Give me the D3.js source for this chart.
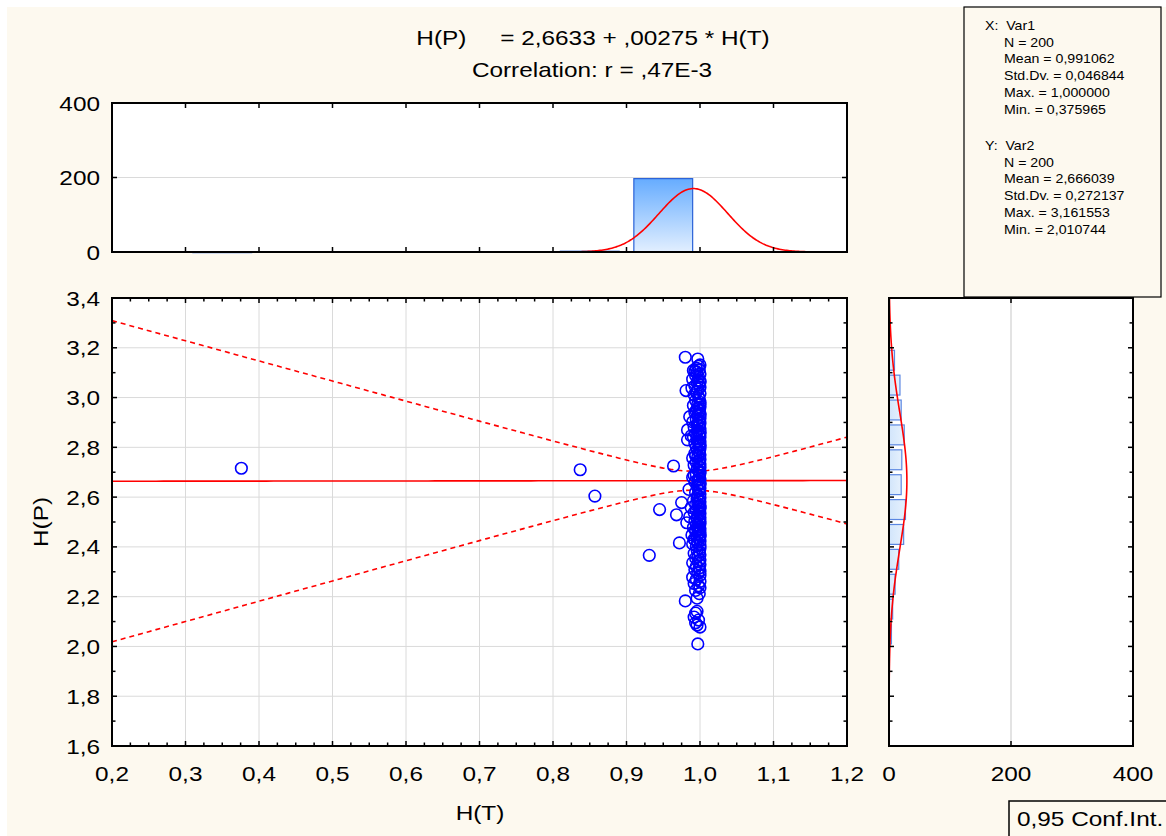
<!DOCTYPE html>
<html><head><meta charset="utf-8">
<script src="https://cdn.jsdelivr.net/npm/d3@7"></script>
<style>
body{margin:0;background:#fff}
svg{display:block}
text{font-family:"Liberation Sans",Arial,sans-serif;fill:#000}
</style>
</head><body>
<svg id="c" width="1166" height="836"></svg>
<script>
// ---------------- DATA ----------------
const titleLine1 = "H(P)     = 2,6633 + ,00275 * H(T)";
const titleLine2 = "Correlation: r = ,47E-3";
const xLabel = "H(T)";
const yLabel = "H(P)";
const confLabel = "0,95 Conf.Int.";

const scatterPoints = [
 [0.980,3.162],[0.997,3.155],[0.995,3.118],[0.999,3.112],[0.993,3.105],[1.000,3.131],[0.996,3.102],[0.998,3.126],[0.991,3.109],
 [1.000,3.095],[0.994,3.088],[0.998,3.081],[0.990,3.074],[1.000,3.066],[0.996,3.059],[0.999,3.052],[0.993,3.047],[1.000,3.041],
 [0.997,3.035],[0.981,3.028],[0.995,3.022],[1.000,3.016],[0.992,3.011],[0.998,3.004],[0.997,3.070],[1.000,3.063],[0.989,3.038],
 [0.999,2.995],[0.994,2.988],[1.000,2.981],[0.997,2.975],[0.991,2.968],[1.000,2.962],[0.996,2.955],[0.999,2.948],[0.993,2.941],
 [1.000,2.935],[0.997,2.928],[0.986,2.923],[1.000,2.917],[0.995,2.912],[0.998,2.906],[0.990,2.902],[1.000,2.972],[0.998,2.958],
 [0.995,2.944],[1.000,2.931],
 [1.000,2.897],[0.996,2.892],[0.999,2.886],[0.992,2.881],[1.000,2.875],[0.983,2.870],[0.997,2.866],[1.000,2.861],[0.994,2.856],
 [0.999,2.851],[0.988,2.846],[1.000,2.841],[0.996,2.836],[0.983,2.830],[0.998,2.826],[1.000,2.821],[0.993,2.816],[0.999,2.811],
 [1.000,2.806],[0.995,2.802],[0.998,2.889],[1.000,2.858],[0.991,2.843],[0.997,2.823],[1.000,2.808],
 [0.376,2.716],[0.837,2.710],[0.964,2.725],[1.000,2.795],[0.996,2.789],[0.999,2.782],[0.993,2.776],[1.000,2.770],[0.997,2.763],
 [0.990,2.757],[1.000,2.751],[0.998,2.745],[0.995,2.739],[1.000,2.733],[0.992,2.728],[0.999,2.722],[1.000,2.719],[0.996,2.713],
 [0.998,2.707],[1.000,2.703],[0.994,2.766],
 [0.857,2.604],[1.000,2.697],[0.995,2.691],[0.999,2.685],[0.990,2.679],[1.000,2.673],[0.997,2.667],[0.993,2.661],[1.000,2.655],
 [0.998,2.649],[0.996,2.643],[1.000,2.637],[0.985,2.631],[0.999,2.625],[0.994,2.619],[1.000,2.613],[0.997,2.608],[0.992,2.688],
 [1.000,2.652],[0.998,2.628],
 [0.945,2.550],[0.968,2.529],[0.975,2.578],[1.000,2.597],[0.996,2.593],[0.999,2.589],[0.991,2.585],[1.000,2.581],[0.997,2.574],
 [0.994,2.570],[1.000,2.566],[0.998,2.562],[0.988,2.558],[1.000,2.554],[0.995,2.546],[0.999,2.542],[0.992,2.538],[1.000,2.534],
 [0.997,2.525],[0.986,2.521],[1.000,2.517],[0.996,2.513],[0.999,2.509],[0.993,2.505],[1.000,2.502],[0.998,2.587],[1.000,2.561],
 [0.972,2.416],[0.982,2.497],[1.000,2.493],[0.995,2.488],[0.999,2.483],[0.991,2.478],[1.000,2.473],[0.997,2.468],[0.994,2.463],
 [1.000,2.458],[0.998,2.453],[0.989,2.448],[1.000,2.443],[0.996,2.438],[0.999,2.433],[0.993,2.428],[1.000,2.423],[0.997,2.419],
 [0.990,2.412],[1.000,2.408],[0.995,2.404],[0.998,2.471],[1.000,2.446],[0.992,2.431],
 [0.931,2.366],[1.000,2.395],[0.996,2.388],[0.999,2.381],[0.992,2.374],[1.000,2.368],[0.997,2.361],[0.994,2.355],[1.000,2.348],
 [0.998,2.342],[0.990,2.336],[1.000,2.329],[0.995,2.322],[0.999,2.315],[0.993,2.308],[1.000,2.302],
 [0.997,2.294],[1.000,2.286],[0.990,2.278],[0.995,2.269],[1.000,2.261],[0.992,2.253],[0.998,2.244],[1.000,2.236],[0.994,2.225],
 [0.999,2.212],
 [0.980,2.183],[0.996,2.194],[0.994,2.134],[0.992,2.118],[0.998,2.106],[0.996,2.141],
 [0.997,2.010],[0.996,2.086],[1.000,2.078],[0.994,2.095]
];

const xHistStarts = [0.3, 0.8, 0.9];
const xHistCounts = [1, 2, 197];
const yHistStarts = [3.1, 3.0, 2.9, 2.8, 2.7, 2.6, 2.5, 2.4, 2.3, 2.2, 2.1, 2.0];
const yHistCounts = [9, 18, 20, 25, 21, 20, 27, 24, 16, 10, 6, 4];
const histBinWidth = 0.1;

const xTickValues = [0.2,0.3,0.4,0.5,0.6,0.7,0.8,0.9,1.0,1.1,1.2];
const yTickValues = [1.6,1.8,2.0,2.2,2.4,2.6,2.8,3.0,3.2,3.4];
const countTickValues = [0, 200, 400];

const regIntercept = 2.6633, regSlope = 0.00275;
const nObs = 200;
const meanX = 0.991062, sdX = 0.046844, meanY = 2.666039, sdY = 0.272137;
const tCrit = 1.972;

const statsLinesX = ["X:  Var1","N = 200","Mean = 0,991062","Std.Dv. = 0,046844","Max. = 1,000000","Min. = 0,375965"];
const statsLinesY = ["Y:  Var2","N = 200","Mean = 2,666039","Std.Dv. = 0,272137","Max. = 3,161553","Min. = 2,010744"];

// ---------------- DRAW ----------------
const svg = d3.select("#c");
const cream = "#fdf9ef";
svg.append("rect").attr("x",0).attr("y",0).attr("width",1166).attr("height",836).attr("fill","#fff");
svg.append("rect").attr("x",7).attr("y",7).attr("width",1166).attr("height",836).attr("fill",cream);

const fs = 21;
const stretch = 1.16;
const fmt1 = v => d3.format(".1f")(v).replace(".", ",");

// stretched text helper
function stext(parent, px, py, anchor, str, size, sx, rot){
  const g = parent.append("g").attr("transform", `translate(${px},${py})` + (rot?` rotate(${rot})`:"") + ` scale(${sx},1)`);
  return g.append("text").attr("x",0).attr("y",0).attr("text-anchor",anchor).attr("font-size",size)
    .style("white-space","pre").text(str);
}

const x = d3.scaleLinear().domain([0.2,1.2]).range([112,847]);
const y = d3.scaleLinear().domain([1.6,3.4]).range([746,298]);
const yc = d3.scaleLinear().domain([0,400]).range([252,103]);
const xc = d3.scaleLinear().domain([0,400]).range([889,1133]);

const defs = svg.append("defs");
const g1 = defs.append("linearGradient").attr("id","gTop").attr("x1",0).attr("y1",0).attr("x2",0).attr("y2",1);
g1.append("stop").attr("offset","0%").attr("stop-color","#66acff");
g1.append("stop").attr("offset","100%").attr("stop-color","#e2efff");
const g2 = defs.append("linearGradient").attr("id","gRight").attr("x1",0).attr("y1",0).attr("x2",1).attr("y2",0);
g2.append("stop").attr("offset","0%").attr("stop-color","#d2e5fb");
g2.append("stop").attr("offset","100%").attr("stop-color","#e6f1fd");

function panel(x0,y0,x1,y1){
  svg.append("rect").attr("x",x0).attr("y",y0).attr("width",x1-x0).attr("height",y1-y0).attr("fill","#fff");
}
function frame(x0,y0,x1,y1){
  svg.append("rect").attr("x",x0).attr("y",y0).attr("width",x1-x0).attr("height",y1-y0)
    .attr("fill","none").attr("stroke","#000").attr("stroke-width",2);
}
function hTicks(vals, sx, y0, y1, len){
  const g = svg.append("g").attr("stroke","#000").attr("stroke-width",1.5);
  vals.forEach(v=>{
    g.append("line").attr("x1",sx(v)).attr("x2",sx(v)).attr("y1",y1).attr("y2",y1-len);
    g.append("line").attr("x1",sx(v)).attr("x2",sx(v)).attr("y1",y0).attr("y2",y0+len);
  });
}
function vTicks(vals, sy, x0, x1, len){
  const g = svg.append("g").attr("stroke","#000").attr("stroke-width",1.5);
  vals.forEach(v=>{
    g.append("line").attr("y1",sy(v)).attr("y2",sy(v)).attr("x1",x0).attr("x2",x0+len);
    g.append("line").attr("y1",sy(v)).attr("y2",sy(v)).attr("x1",x1).attr("x2",x1-len);
  });
}
const grid = "#dadada";
const xMinor = d3.range(0,41).map(i=>0.2+i*0.025);
const yMinor = d3.range(0,19).map(i=>1.6+i*0.1);

// ---- Top histogram ----
panel(112,103,847,252);
svg.append("line").attr("x1",112).attr("x2",847).attr("y1",yc(200)).attr("y2",yc(200)).attr("stroke",grid).attr("stroke-width",1);
svg.append("g").selectAll("rect").data(xHistStarts.map((s,i)=>({s,c:xHistCounts[i]}))).join("rect")
  .attr("x",d=>x(d.s+histBinWidth*0.1)).attr("width",d=>x(d.s+histBinWidth*0.9)-x(d.s+histBinWidth*0.1))
  .attr("y",d=>yc(d.c)).attr("height",d=>Math.max(1,yc(0)-yc(d.c)))
  .attr("fill","url(#gTop)").attr("stroke","#2a62d8").attr("stroke-width",1.2);
const topCurve = d3.range(0,501).map(i=>{const xv=0.2+i*0.002; const z=(xv-meanX)/sdX;
  return [xv, nObs*histBinWidth*Math.exp(-0.5*z*z)/(sdX*Math.sqrt(2*Math.PI))];});
svg.append("path").datum(topCurve).attr("d",d3.line().x(d=>x(d[0])).y(d=>yc(d[1])))
  .attr("fill","none").attr("stroke","#ff0000").attr("stroke-width",1.6);
hTicks(xTickValues.slice(1,-1), x, 103, 252, 5);
vTicks([200], yc, 112, 847, 5);
frame(112,103,847,252);

// ---- Scatter ----
panel(112,298,847,746);
const gg = svg.append("g").attr("stroke",grid).attr("stroke-width",1);
xTickValues.slice(1,-1).forEach(v=>gg.append("line").attr("x1",x(v)).attr("x2",x(v)).attr("y1",298).attr("y2",746));
yTickValues.slice(1,-1).forEach(v=>gg.append("line").attr("y1",y(v)).attr("y2",y(v)).attr("x1",112).attr("x2",847));

const xsLine = d3.range(0,101).map(i=>0.2+i*0.01);
const sxx = (nObs-1)*sdX*sdX;
const sRes = sdY*Math.sqrt((nObs-1)/(nObs-2));
const band = xsLine.map(xv=>{const yh=regIntercept+regSlope*xv;
  const h=tCrit*sRes*Math.sqrt(1/nObs+(xv-meanX)*(xv-meanX)/sxx); return {xv,yh,lo:yh-h,hi:yh+h};});
defs.append("clipPath").attr("id","clipS").append("rect").attr("x",112).attr("y",298).attr("width",735).attr("height",448);
const gs = svg.append("g").attr("clip-path","url(#clipS)");
gs.append("path").datum(band).attr("d",d3.line().x(d=>x(d.xv)).y(d=>y(d.yh)))
  .attr("fill","none").attr("stroke","#ff0000").attr("stroke-width",1.6);
["lo","hi"].forEach(k=>gs.append("path").datum(band).attr("d",d3.line().x(d=>x(d.xv)).y(d=>y(d[k])))
  .attr("fill","none").attr("stroke","#ff0000").attr("stroke-width",1.6).attr("stroke-dasharray","5,4"));
gs.append("g").selectAll("circle").data(scatterPoints).join("circle")
  .attr("cx",d=>x(d[0])).attr("cy",d=>y(d[1])).attr("r",5.8)
  .attr("fill","none").attr("stroke","#0000ff").attr("stroke-width",1.6);

hTicks(xMinor.filter((v,i)=>i%4!==0), x, 298, 746, 3.5);
hTicks(xTickValues.slice(1,-1), x, 298, 746, 5);
vTicks(yMinor.filter((v,i)=>i%2===1), y, 112, 847, 3.5);
vTicks(yTickValues.slice(1,-1), y, 112, 847, 5);
frame(112,298,847,746);

// ---- Right histogram ----
panel(889,298,1133,746);
svg.append("line").attr("x1",xc(200)).attr("x2",xc(200)).attr("y1",298).attr("y2",746).attr("stroke",grid).attr("stroke-width",1.5);
svg.append("g").selectAll("rect").data(yHistStarts.map((s,i)=>({s,c:yHistCounts[i]}))).join("rect")
  .attr("y",d=>y(d.s+histBinWidth*0.9)).attr("height",d=>y(d.s+histBinWidth*0.1)-y(d.s+histBinWidth*0.9))
  .attr("x",xc(0)).attr("width",d=>xc(d.c)-xc(0))
  .attr("fill","url(#gRight)").attr("stroke","#2a62d8").attr("stroke-opacity",0.75).attr("stroke-width",1.2);
const rightCurve = d3.range(0,181).map(i=>{const yv=1.6+i*0.01; const z=(yv-meanY)/sdY;
  return [yv, nObs*histBinWidth*Math.exp(-0.5*z*z)/(sdY*Math.sqrt(2*Math.PI))];});
svg.append("path").datum(rightCurve).attr("d",d3.line().x(d=>xc(d[1])).y(d=>y(d[0])))
  .attr("fill","none").attr("stroke","#ff0000").attr("stroke-width",1.6);
hTicks([200], xc, 298, 746, 5);
vTicks(yMinor.filter((v,i)=>i%2===1), y, 889, 1133, 3.5);
vTicks(yTickValues.slice(1,-1), y, 889, 1133, 5);
frame(889,298,1133,746);

// ---- Tick labels ----
const tl = svg.append("g");
xTickValues.forEach(v=>stext(tl, x(v), 781, "middle", fmt1(v), fs, stretch));
yTickValues.forEach(v=>stext(tl, 100, y(v)+7.5, "end", fmt1(v), fs, stretch));
countTickValues.forEach(v=>stext(tl, 100, yc(v)+7.5, "end", String(v), fs, stretch));
countTickValues.forEach(v=>stext(tl, xc(v), 781, "middle", String(v), fs, stretch));

// axis titles
stext(svg, 480, 820, "middle", xLabel, fs, stretch);
stext(svg, 48, 522, "middle", yLabel, fs, stretch, -90);

// title
stext(svg, 593, 45, "middle", titleLine1, fs, stretch);
stext(svg, 592, 77, "middle", titleLine2, fs, stretch);

// stats box
svg.append("rect").attr("x",964).attr("y",7).attr("width",197).attr("height",290).attr("fill",cream).attr("stroke","#000").attr("stroke-width",1.2);
const sg = svg.append("g");
statsLinesX.forEach((t,i)=>stext(sg, i===0?985:1004, 30+i*16.7, "start", t, 13, 1.09));
statsLinesY.forEach((t,i)=>stext(sg, i===0?985:1004, 150+i*16.7, "start", t, 13, 1.09));

// conf int box
svg.append("rect").attr("x",1009).attr("y",801).attr("width",170).attr("height",50).attr("fill",cream).attr("stroke","#000").attr("stroke-width",1.5);
stext(svg, 1017, 826, "start", confLabel, fs, stretch);
</script>
</body></html>
